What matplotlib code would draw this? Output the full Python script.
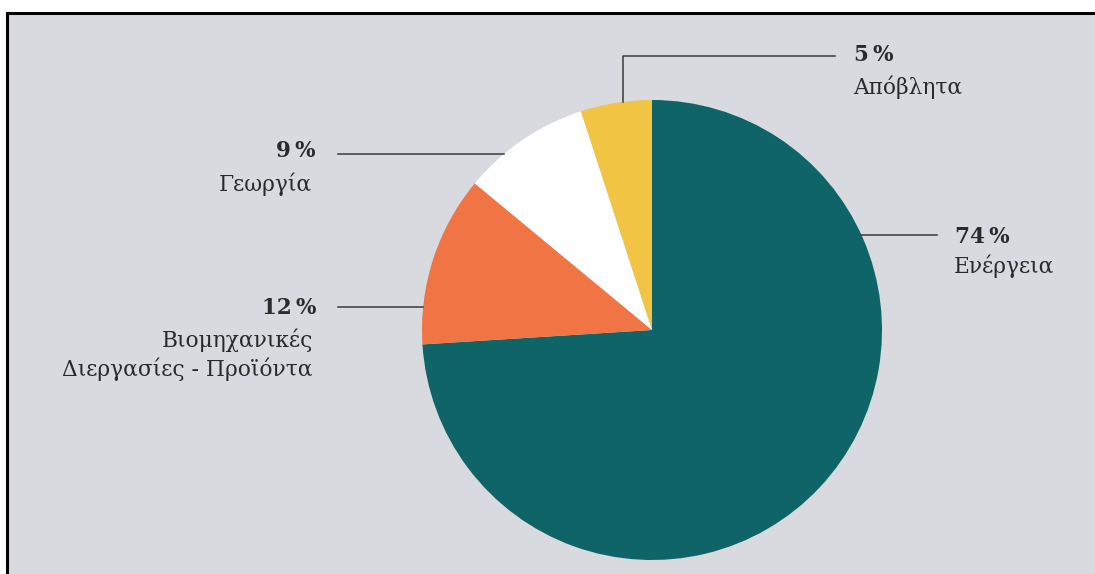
import numpy as np
import matplotlib.pyplot as plt
from matplotlib.patches import Rectangle

# μερίδια εκπομπών ανά τομέα (%)
tomeis = ['Ενέργεια', 'Βιομηχανικές\nΔιεργασίες - Προϊόντα', 'Γεωργία', 'Απόβλητα']
pososta = [74, 12, 9, 5]
xromata = ['#0e6466', '#f07444', '#ffffff', '#f2c444']

W, H = 1095, 574
cx, cy, R = 652, H - 330, 230
bg = '#d9dadf'
lc = '#3a3a3a'
tc = '#2a2a2a'

plt.rcParams['font.family'] = ['DejaVu Serif']

fig = plt.figure(figsize=(W / 100, H / 100), dpi=100, facecolor='white')
ax = fig.add_axes([0, 0, 1, 1])

# γκρι φόντο με μαύρο περίγραμμα πάνω και αριστερά
ax.add_patch(Rectangle((7, -5), W, H - 13 + 5, facecolor=bg, edgecolor='none', zorder=0))
ax.plot([7, 7, W + 5], [-5, H - 13, H - 13], color='black', lw=2.2, zorder=1,
        solid_joinstyle='miter')

ax.pie(pososta, colors=xromata, startangle=90, counterclock=False,
       center=(cx, cy), radius=R, wedgeprops=dict(linewidth=0))


def akri_x(y, side):
    # σημείο της περιφέρειας σε δεδομένο ύψος
    return cx + side * np.sqrt(R**2 - (y - cy)**2)


def akri_y(x):
    return cy + np.sqrt(R**2 - (x - cx)**2)


# γραμμές οδηγοί
y74 = H - 235
ax.plot([akri_x(y74, 1), 937], [y74, y74], color=lc, lw=1.1)
y12 = H - 307
ax.plot([338, akri_x(y12, -1)], [y12, y12], color=lc, lw=1.1)
y9 = H - 154
ax.plot([338, akri_x(y9, -1)], [y9, y9], color=lc, lw=1.1)
x5, y5 = 623, H - 56
ax.plot([x5, x5, 835], [akri_y(x5), y5, y5], color=lc, lw=1.1)


def etiketa(x, y, i, ha, dy=30):
    ax.text(x, y, f'{pososta[i]}\u2009%', fontsize=15.5, fontweight='bold', color=tc,
            ha=ha, va='center')
    for k, grammi in enumerate(tomeis[i].split('\n')):
        ax.text(x - (3 if ha == 'right' else 1), y - dy - 29 * k, grammi, fontsize=15.7,
                color=tc, ha=ha, va='center')


etiketa(955, H - 237, 0, 'left', dy=29)
etiketa(316, H - 308, 1, 'right', dy=32)
etiketa(315, H - 151, 2, 'right', dy=33)
etiketa(854, H - 55, 3, 'left', dy=32)

ax.set_xlim(0, W)
ax.set_ylim(0, H)
ax.axis('off')

fig.savefig('out.png', dpi=100, facecolor='white')
